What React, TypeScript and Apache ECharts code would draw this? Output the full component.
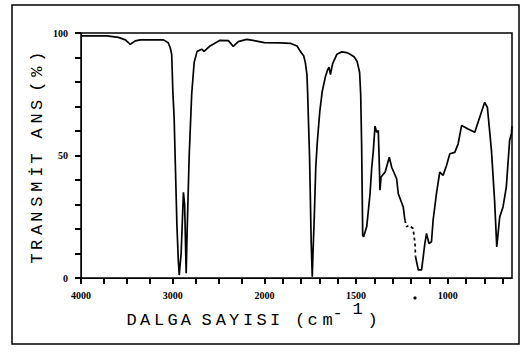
import React, { useEffect, useRef } from "react";
import * as echarts from "echarts";

// Wavenumbers (cm^-1) and transmittance (%)
const wavenumbers = [
  4000, 3715, 3592, 3516, 3462, 3408, 3353, 3100, 3049, 3027, 3011, 2998, 2984, 2973, 2954, 2940,
  2929, 2908, 2883, 2870, 2853, 2842, 2820, 2793, 2766, 2734, 2683, 2658, 2592, 2484, 2393, 2339,
  2285, 2193, 2085, 2000, 1913, 1859, 1822, 1804, 1786, 1777, 1768, 1764, 1759, 1754, 1750, 1745,
  1739, 1736, 1728, 1720, 1712, 1698, 1685, 1668, 1655, 1647, 1640, 1628, 1605, 1578, 1551, 1533,
  1511, 1495, 1481, 1475, 1470, 1466, 1464, 1459, 1442, 1424, 1415, 1406, 1397, 1388, 1379, 1373,
  1370, 1364, 1342, 1319, 1306, 1279, 1270, 1243, 1234, 1225, 1212, 1189, 1179, 1176, 1161, 1143,
  1125, 1116, 1103, 1089, 1080, 1062, 1044, 1026, 1007, 989, 962, 944, 925, 889, 853, 826,
  799, 784, 762, 745, 733, 717, 699, 681, 663, 653, 650,
];
const transmittance = [
  98.8, 98.8, 98.2, 97.2, 95.4, 96.8, 97.2, 97.2, 96.0, 94.0, 91.3, 75.7, 65.0, 48.8, 21.5, 8.0,
  1.2, 10.0, 35.0, 30.0, 1.9, 20.0, 50.0, 75.0, 88.0, 92.5, 93.4, 92.5, 94.7, 97.0, 96.9, 94.5,
  96.5, 97.4, 96.7, 96.1, 96.0, 95.8, 94.7, 92.5, 90.7, 88.0, 83.0, 75.0, 62.2, 50.0, 35.0, 14.8,
  0.5, 8.0, 25.0, 45.0, 55.0, 68.0, 76.0, 82.0, 85.0, 86.0, 83.0, 87.5, 91.3, 92.3, 92.0, 91.3,
  90.3, 88.5, 84.0, 75.0, 55.0, 30.0, 17.5, 16.8, 21.0, 34.4, 45.0, 52.0, 62.0, 59.5, 60.2, 45.0,
  35.8, 41.2, 43.2, 49.3, 45.2, 40.5, 34.4, 29.0, 23.6, 20.9, 21.5, 20.2, 14.1, 8.7, 3.3, 3.3,
  14.1, 18.2, 14.1, 14.8, 23.6, 34.4, 43.2, 41.9, 45.9, 50.7, 51.3, 54.7, 62.2, 60.8, 59.5, 65.6,
  71.7, 69.6, 52.0, 31.7, 12.7, 24.9, 29.0, 37.1, 56.1, 59.0, 62.0,
];
// Portion of the trace that is broken (dashed) in the scan
const dashedFrom = 1234;
const dashedTo = 1176;

const xTickLabels = [4000, 3000, 2000, 1500, 1000];
const xMinorTicks = [
  3750, 3500, 3250, 2750, 2500, 2250, 1900, 1800, 1700, 1600, 1400, 1300, 1200, 1100, 900, 800, 700,
];
const yTickLabels = [0, 50, 100];
const xEnd = 650;

const xTitle = "DALGA SAYISI (cm";
const yTitle = "TRANSMİT ANS (%)";

// Spectrometer abscissa: 4000-2000 at one scale, below 2000 at double scale
const toP = (w: number) => (w >= 2000 ? (4000 - w) / 1000 : 2 + (2000 - w) / 500);

export default function App() {
  const ref = useRef<HTMLDivElement>(null);
  useEffect(() => {
    if (!ref.current) return;
    const chart = echarts.init(ref.current, undefined, { renderer: "svg" });

    const before: number[][] = [];
    const after: number[][] = [];
    const dashed: number[][] = [];
    wavenumbers.forEach((w, i) => {
      const pt = [toP(w), transmittance[i]];
      if (w >= dashedFrom) before.push(pt);
      if (w <= dashedFrom && w >= dashedTo) dashed.push(pt);
      if (w <= dashedTo) after.push(pt);
    });

    const majorP = xTickLabels.map(toP);
    const allTickP = xTickLabels.concat(xMinorTicks).map(toP).sort((a, b) => a - b);
    const labelFont = "Liberation Sans Narrow";
    const mono = "Liberation Mono";

    const xTitleX = [131.7, 145, 159, 172.5, 185.8, 196, 206.7, 220.8, 234, 248, 261.7, 275, 287, 300, 312.5, 327.5];
    const yTitleY = [258.3, 245, 230, 216.7, 201.7, 186.7, 171.7, 158.3, 146, 133.3, 118.3, 105, 95, 86.7, 71.7, 56.7];

    const txt = (c: string, x: number, y: number, rot = 0) => ({
      type: "text",
      x,
      y,
      rotation: rot,
      style: {
        text: c,
        fontFamily: mono,
        fontSize: 17,
        fill: "#000",
        align: "center",
        verticalAlign: "middle",
      },
      silent: true,
    });

    const graphics: any[] = [
      {
        type: "rect",
        shape: { x: 12, y: 5, width: 507, height: 339 },
        style: { fill: "transparent", stroke: "#000", lineWidth: 1.5 },
        silent: true,
      },
      {
        type: "circle",
        shape: { cx: 415, cy: 298, r: 1.6 },
        style: { fill: "#000" },
        silent: true,
      },
    ];
    xTitle.split("").forEach((c, i) => {
      if (c !== " ") graphics.push(txt(c, xTitleX[i], 320));
    });
    graphics.push(txt("-", 337.5, 313), txt("1", 357.5, 309), txt(")", 372.5, 320));
    yTitle.split("").forEach((c, i) => {
      if (c !== " ") graphics.push(txt(c, 37, yTitleY[i], Math.PI / 2));
    });

    const lineSeries = (data: number[][], dashedStyle: boolean) => ({
      type: "line",
      data,
      showSymbol: false,
      symbol: "none",
      lineStyle: { color: "#000", width: 1.7, type: dashedStyle ? [3, 3] : "solid" },
      z: 3,
    });

    chart.setOption({
      animation: false,
      grid: {
        left: 81,
        right: 12,
        top: 33,
        bottom: 76,
        show: true,
        borderColor: "#000",
        borderWidth: 1.5,
      },
      xAxis: {
        type: "value",
        min: 0,
        max: toP(xEnd),
        interval: 1,
        axisLine: { show: true, lineStyle: { color: "#000" } },
        splitLine: { show: false },
        axisTick: { show: true, length: 6, customValues: allTickP, lineStyle: { color: "#000", width: 2 } },
        axisLabel: {
          show: true,
          customValues: majorP,
          margin: 12,
          color: "#000",
          fontSize: 10,
          fontWeight: "bold",
          fontFamily: labelFont,
          formatter: (v: number) => {
            const i = majorP.findIndex((p) => Math.abs(p - v) < 1e-6);
            return i >= 0 ? String(xTickLabels[i]) : "";
          },
        },
      },
      yAxis: {
        type: "value",
        min: 0,
        max: 100,
        interval: 10,
        axisLine: { show: true, lineStyle: { color: "#000" } },
        splitLine: { show: false },
        axisTick: { show: true, length: 6, lineStyle: { color: "#000", width: 2 } },
        axisLabel: {
          color: "#000",
          fontSize: 10,
          fontWeight: "bold",
          fontFamily: labelFont,
          margin: 13,
          formatter: (v: number) => (yTickLabels.includes(v) ? String(v) : ""),
        },
      },
      series: [lineSeries(before, false), lineSeries(dashed, true), lineSeries(after, false)],
    });
    chart.setOption({ graphic: graphics });
    return () => chart.dispose();
  }, []);
  return (
    <div
      ref={ref}
      style={{ position: "fixed", left: 0, top: 0, width: 524, height: 354, background: "#fff" }}
    />
  );
}
